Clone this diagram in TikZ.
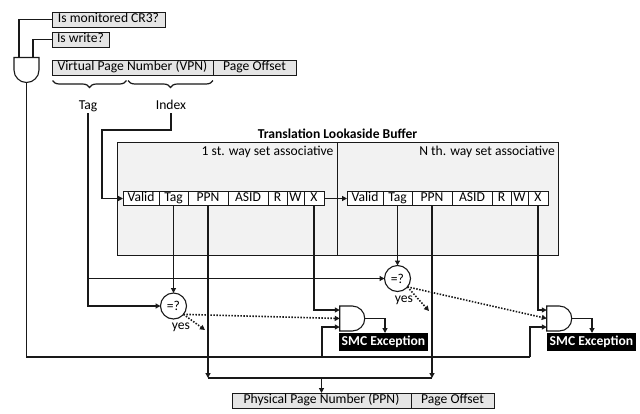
\documentclass[tikz,border=0pt]{standalone}
\usepackage{fontspec}
\setmainfont{Carlito}
\usetikzlibrary{arrows.meta,shapes.misc,decorations.pathreplacing,calc}
\begin{document}
\begin{tikzpicture}[x=1pt,y=-1pt,
  every node/.style={font=\fontsize{13.6pt}{16pt}\selectfont, outer sep=0pt},
  ln/.style={line width=1.4pt, draw=black!90},
  arr/.style={ln, -{Triangle[length=5pt,width=5pt]}},
  dotarr/.style={line width=1.6pt, draw=black!90, dash pattern=on 1.5pt off 1.5pt, -{Triangle[length=5pt,width=5pt]}},
  lbl/.style={draw=black!90, line width=1pt, fill=gray!20, inner xsep=3pt, inner ysep=1pt, text height=9.5pt, text depth=3pt, minimum height=15pt},
  cell/.style={draw=black!90, line width=1pt, fill=white, inner xsep=0pt, inner ysep=0pt, text height=9.5pt, text depth=3pt, minimum height=14pt, anchor=west},
  way/.style={draw=black!90, line width=1pt, fill=gray!10, inner sep=0pt, anchor=north west, minimum height=113pt},
  gate/.style={draw=black!90, line width=1.1pt, fill=white, rounded rectangle, rounded rectangle left arc=none, minimum width=22.5pt, minimum height=25pt, inner sep=0pt},
  cmp/.style={circle, draw=black!90, line width=1.1pt, fill=white, minimum size=26pt, inner sep=0pt},
  smc/.style={fill=black, text=white, font=\bfseries\fontsize{13.6pt}{16pt}\selectfont, minimum width=89pt, minimum height=18pt, inner sep=0pt, text height=9.5pt, text depth=3pt},
  txt/.style={inner sep=1pt, text height=9.5pt, text depth=3pt},
  brc/.style={line width=1.2pt, draw=black!90, decorate, decoration={brace, amplitude=7pt, mirror}},
]
\useasboundingbox (0,0) rectangle (640,413);

% top inputs
\node[lbl, minimum width=113pt] (cr3) at (108.5,19.5) {Is monitored CR3?};
\node[lbl, minimum width=57pt] (wr) at (80.5,39.5) {Is write?};
\node[gate, minimum width=24pt, minimum height=25pt, rotate=-90] (g0) at (26.5,70) {};

% virtual address
\node[lbl, minimum width=161pt] (vpn) at (132.5,67.5) {Virtual Page Number (VPN)};
\node[lbl, minimum width=83pt, anchor=west] (po) at (vpn.east) {Page Offset};
\draw[brc] (52.5,80.5) -- (126.5,80.5);
\draw[brc] (128,80.5) -- (213,80.5);
\node[txt] (tag) at (88,106) {Tag};
\node[txt] (idx) at (171,106) {Index};

% TLB
\node[way, minimum width=220pt] (w1) at (117,142) {};
\node[way, minimum width=221pt] (wN) at (337,142) {};
\node[anchor=base, font=\bfseries\fontsize{13.6pt}{16pt}\selectfont] (tlb) at (337.5,138.5) {Translation Lookaside Buffer};
\node[anchor=base east, inner sep=0pt] (l1) at (333.5,155) {1 st. way set associative};
\node[anchor=base east, inner sep=0pt] (lN) at (555,155) {N th. way set associative};

\node[cell, minimum width=36pt] (v1) at (123,198.5) {Valid};
\node[cell, minimum width=29pt] (t1) at (v1.east) {Tag};
\node[cell, minimum width=40pt] (p1) at (t1.east) {PPN};
\node[cell, minimum width=40pt] (a1) at (p1.east) {ASID};
\node[cell, minimum width=19pt] (r1) at (a1.east) {R};
\node[cell, minimum width=17pt] (ww1) at (r1.east) {W};
\node[cell, minimum width=20pt] (x1) at (ww1.east) {X};

\node[cell, minimum width=36pt] (vN) at (347,198.5) {Valid};
\node[cell, minimum width=29pt] (tN) at (vN.east) {Tag};
\node[cell, minimum width=40pt] (pN) at (tN.east) {PPN};
\node[cell, minimum width=40pt] (aN) at (pN.east) {ASID};
\node[cell, minimum width=19pt] (rN) at (aN.east) {R};
\node[cell, minimum width=17pt] (wwN) at (rN.east) {W};
\node[cell, minimum width=20pt] (xN) at (wwN.east) {X};

% comparators, gates, exceptions
\node[cmp] (c1) at (173.5,306) {=?};
\node[cmp] (c2) at (397.5,278.5) {=?};
\node[anchor=base] (yes1) at (181,329.5) {yes};
\node[anchor=base] (yes2) at (404,302.5) {yes};
\node[gate] (g1) at (352.25,318.5) {};
\node[gate] (g2) at (559.25,318.5) {};
\node[smc] (s1) at (383.5,342) {SMC Exception};
\node[smc] (s2) at (591.5,342) {SMC Exception};

% physical address
\node[lbl, minimum width=179pt] (ppn) at (321.5,400.5) {Physical Page Number (PPN)};
\node[lbl, minimum width=83pt, anchor=west] (po2) at (ppn.east) {Page Offset};

% coordinates
\coordinate (b0) at (26.5,357);
\coordinate (b1) at (322,357);
\coordinate (b2) at (530,357);
\coordinate (m1) at (208,378);
\coordinate (d1) at (205,330);
\coordinate (d2) at (429,311);
\coordinate (ix) at (102,130);

% connectors
\draw[ln] (cr3.west) -| ([xshift=-7.5pt]g0.west);
\draw[ln] (wr.west) -| ([xshift=6.5pt]g0.west);
\draw[ln] (g0.east) -- (b0) -- (b2);
\draw[arr] (b2) |- ([yshift=-8.5pt]g2.west);
\draw[arr] (b1) |- ([yshift=-8.5pt]g1.west);

\draw[arr] (idx.south) |- (ix) |- (v1.west);
\draw[arr] (tag.south) |- (c1.west);
\draw[arr] (tag.south |- c2.west) -- (c2.west);

\draw[arr] (x1.east) -- (vN.west);
\draw[arr] (t1.south) -- (c1.north);
\draw[arr] (tN.south) -- (c2.north);
\draw[arr] (x1.south) |- ([yshift=8.5pt]g1.west);
\draw[arr] (xN.south) |- ([yshift=8.5pt]g2.west);

\draw[dotarr] (c1.-40) -- (g1.west);
\draw[dotarr] (c1.-40) -- (d1);
\draw[dotarr] (c2.-40) -- (g2.west);
\draw[dotarr] (c2.-40) -- (d2);

\draw[arr] (g1.east) -| ([xshift=1.5pt]s1.north);
\draw[arr] (g2.east) -| ([xshift=0.5pt]s2.north);

\draw[arr] (p1.south) -- (p1.south |- m1);
\draw[arr] (pN.south) -- (pN.south |- m1);
\draw[ln] (p1.south |- m1) -- (pN.south |- m1);
\draw[arr] (ppn.north |- m1) -- (ppn.north);
\end{tikzpicture}
\end{document}
